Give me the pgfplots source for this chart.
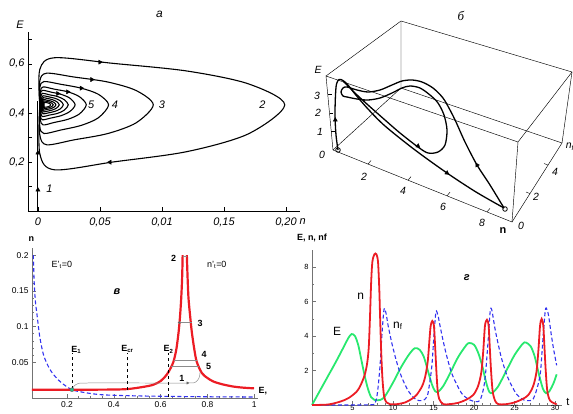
\documentclass[border=0pt]{standalone}
\usepackage{fontspec}
\setmainfont{Liberation Sans}
\newfontfamily\serifit{Liberation Serif}
\usepackage{pgfplots}
\pgfplotsset{compat=1.18}
\definecolor{nred}{RGB}{236,28,36}
\definecolor{egreen}{RGB}{40,232,110}
\definecolor{fblue}{RGB}{50,50,240}
\definecolor{dotgreen}{RGB}{40,190,140}

\begin{document}
\begin{tikzpicture}
\useasboundingbox (0,0) rectangle (573bp,414bp);
\clip (0,0) rectangle (573bp,414bp);

% ---------------- panel a: phase portrait (n,E)
\begin{axis}[
    at={(28bp,203bp)}, anchor=south west, scale only axis,
    width=272bp, height=179bp,
    xmin=-0.008, xmax=0.2113, ymin=0, ymax=0.73,
    axis x line=bottom, axis y line=left,
    axis line style={-, line width=0.8pt},
    xtick={0,0.05,0.1,0.15,0.2},
    xticklabels={0,0{,}05,0{,}01,0{,}15,0{,}20},
    ytick={0.1,0.2,0.3,0.4,0.5,0.6,0.7},
    yticklabels={,0{,}2,,0{,}4,,0{,}6,},
    tick align=inside, major tick length=4bp,
    tick style={black, line width=0.6pt},
    ticklabel style={font=\fontsize{11}{13}\selectfont\itshape},
    xticklabel style={yshift=-3bp},
    clip=false,
    lp/.style={black, line width=1.1pt, smooth},
]
\addplot[black, line width=1.1pt] coordinates {(0,0.002) (0,0.45)};
\addplot[lp] coordinates {(0.0015,0.433) (0.0015,0.577) (0.0134,0.625) (0.0608,0.602) (0.12,0.571) (0.1694,0.519) (0.199,0.433) (0.1694,0.314) (0.12,0.242) (0.0608,0.2) (0.0134,0.168) (0.0015,0.234) (0.0015,0.433)};
\addplot[lp] coordinates {(0.0015,0.433) (0.0015,0.530) (0.007,0.562) (0.029,0.5465) (0.0564,0.526) (0.0793,0.491) (0.093,0.433) (0.0793,0.36) (0.0564,0.316) (0.029,0.29) (0.007,0.27) (0.0015,0.311) (0.0015,0.433)};
\addplot[lp] coordinates {(0.0015,0.433) (0.0015,0.504) (0.0048,0.528) (0.0182,0.517) (0.0348,0.501) (0.0487,0.476) (0.057,0.433) (0.0487,0.38) (0.0348,0.349) (0.0182,0.33) (0.0048,0.316) (0.0015,0.345) (0.0015,0.433)};
\addplot[lp] coordinates {(0.002,0.433) (0.002,0.488) (0.0042,0.506) (0.0131,0.497) (0.0242,0.486) (0.0335,0.466) (0.039,0.433) (0.0335,0.396) (0.0242,0.374) (0.0131,0.361) (0.0042,0.351) (0.002,0.372) (0.002,0.433)};
\addplot[lp] coordinates {(0.002,0.433) (0.002,0.477) (0.0037,0.492) (0.0104,0.485) (0.0188,0.4755) (0.0258,0.46) (0.03,0.433) (0.0258,0.406) (0.0188,0.389) (0.0104,0.379) (0.0037,0.372) (0.002,0.387) (0.002,0.433)};
\addplot[lp] coordinates {(0.0025,0.433) (0.0025,0.468) (0.0038,0.48) (0.0091,0.474) (0.0157,0.467) (0.0212,0.454) (0.0245,0.433) (0.0212,0.411) (0.0157,0.398) (0.0091,0.391) (0.0038,0.385) (0.0025,0.397) (0.0025,0.433)};
\addplot[lp] coordinates {(0.003,0.433) (0.003,0.461) (0.0041,0.47) (0.0083,0.466) (0.0135,0.46) (0.0179,0.45) (0.0205,0.433) (0.0179,0.416) (0.0135,0.406) (0.0083,0.4) (0.0041,0.396) (0.003,0.405) (0.003,0.433)};
\addplot[lp] coordinates {(0.0035,0.433) (0.0035,0.455) (0.0043,0.462) (0.0076,0.459) (0.0117,0.454) (0.0151,0.446) (0.0172,0.433) (0.0151,0.42) (0.0117,0.412) (0.0076,0.407) (0.0043,0.404) (0.0035,0.411) (0.0035,0.433)};
\addplot[lp] coordinates {(0.004,0.433) (0.004,0.4495) (0.0046,0.455) (0.0072,0.452) (0.0103,0.449) (0.0129,0.443) (0.0145,0.433) (0.0129,0.423) (0.0103,0.417) (0.0072,0.414) (0.0046,0.411) (0.004,0.4165) (0.004,0.433)};
\addplot[lp] coordinates {(0.0045,0.433) (0.0045,0.445) (0.005,0.449) (0.0069,0.447) (0.0092,0.4445) (0.0112,0.44) (0.0124,0.433) (0.0112,0.426) (0.0092,0.4215) (0.0069,0.419) (0.005,0.417) (0.0045,0.421) (0.0045,0.433)};
\addplot[lp] coordinates {(0.005,0.433) (0.005,0.4405) (0.0053,0.443) (0.0071,0.442) (0.0086,0.44) (0.0097,0.4375) (0.0102,0.433) (0.0097,0.4285) (0.0086,0.426) (0.0071,0.424) (0.0053,0.423) (0.005,0.4255) (0.005,0.433)};
% direction marks
\addplot[only marks, mark=triangle*, mark size=2.4pt, black] coordinates {(0,0.086) (0,0.237)};
\addplot[only marks, mark=triangle*, mark size=2.4pt, black, mark options={rotate=-90}] coordinates {(0.05,0.607) (0.0435,0.536) (0.035,0.501) (0.024,0.486) (0.016,0.479)};
\addplot[only marks, mark=triangle*, mark size=2.4pt, black, mark options={rotate=90}] coordinates {(0.058,0.199)};
\begin{scope}[font=\fontsize{11}{13}\selectfont\itshape]
\node[anchor=west] at (axis cs:0.004,0.09) {1};
\node at (axis cs:0.181,0.433) {2};
\node at (axis cs:0.100,0.433) {3};
\node at (axis cs:0.062,0.433) {4};
\node at (axis cs:0.043,0.433) {5};
\node at (axis cs:-0.0145,0.76) {E};
\node at (axis cs:0.2135,-0.045) {n};
\node[font=\fontsize{12}{14}\selectfont\itshape] at (axis cs:0.098,0.80) {а};
\end{scope}
\end{axis}

% ---------------- panel b: 3D trajectory (E,n,n_f), projected, pixel units
\begin{axis}[
    at={(300bp,174bp)}, anchor=south west, scale only axis,
    width=273bp, height=240bp,
    xmin=300, xmax=573, ymin=0, ymax=240, y dir=reverse,
    hide axis, clip=false,
    box/.style={black, line width=0.45pt},
    tr/.style={black, line width=1.3pt, smooth},
]
\addplot[box] coordinates {(333,150) (326,76) (518,142) (512,222) (333,150)};
\addplot[box] coordinates {(326,76) (401,21) (572,72) (518,142)};
\addplot[box] coordinates {(572,72) (562,143) (512,222)};
\addplot[box] coordinates {(401,21) (401,88) (333,150)};
\addplot[box] coordinates {(401,88) (562,143)};
% ticks
\addplot[box] coordinates {(331.25,131.5) (335,131.5)};
\addplot[box] coordinates {(329.5,113) (333.3,113)};
\addplot[box] coordinates {(327.75,94.5) (331.5,94.5)};
\addplot[box] coordinates {(368,164.1) (371,160.5)};
\addplot[box] coordinates {(408,180.2) (411,176.6)};
\addplot[box] coordinates {(447,195.8) (450,192.2)};
\addplot[box] coordinates {(487,211.9) (490,208.3)};
\addplot[box] coordinates {(530,193.6) (526,192)};
\addplot[box] coordinates {(548,165.1) (544,163.5)};
% trajectory
\addplot[tr] coordinates {(338,150) (336,135) (335,115) (335.5,95) (336.5,84) (339,79.5) (343,80.5) (348,85) (355,94) (368,109) (385,126) (415,150) (447,173) (476,192) (504,208)};
\addplot[tr] coordinates {(504,208) (490,185) (477,165) (465,142) (456,122) (450,110) (443,98) (433,88) (422,82) (412,80) (402,81) (392,85) (380,90) (368,92) (357,90) (347,87) (343,88) (341,92) (343,96) (347,97) (357,99) (368,100) (380,98) (392,93) (402,88) (410,86) (420,88) (430,95) (438,103) (444,115) (447,130) (445,145) (438,152) (428,153) (418,147) (400,133) (385,120) (368,105) (356,94) (348,86) (343,81)};
\addplot[only marks, mark=o, mark size=2.3pt, black, line width=0.8pt] coordinates {(338,150) (505,209)};
\addplot[only marks, mark=triangle*, mark size=2.4pt, black] coordinates {(335.3,120)};
\addplot[only marks, mark=triangle*, mark size=2.4pt, black, mark options={rotate=-127}] coordinates {(418,146)};
\addplot[only marks, mark=triangle*, mark size=2.4pt, black, mark options={rotate=-126}] coordinates {(447,173)};
\addplot[only marks, mark=triangle*, mark size=2.4pt, black, mark options={rotate=30}] coordinates {(477,165)};
\begin{scope}[font=\fontsize{10.5}{12}\selectfont\itshape]
\node at (axis cs:461,16) {\serifit\fontsize{13}{14}\selectfont б};
\node at (axis cs:318,70) {E};
\node at (axis cs:317,96) {3};
\node at (axis cs:318,113) {2};
\node at (axis cs:320,132) {1};
\node at (axis cs:322,155) {0};
\node at (axis cs:364,177) {2};
\node at (axis cs:403,191) {4};
\node at (axis cs:443,207) {6};
\node at (axis cs:482,223) {8};
\node at (axis cs:521,226) {0};
\node at (axis cs:536,197) {2};
\node at (axis cs:555,172) {4};
\node at (axis cs:570,147) {n\textsubscript{f}};
\node[font=\fontsize{11}{12}\selectfont\bfseries] at (axis cs:503,231) {n};
\end{scope}
\end{axis}

% ---------------- panel c: nullclines (E,n)
\begin{axis}[
    at={(32bp,16bp)}, anchor=south west, scale only axis,
    width=226bp, height=150bp,
    xmin=0.0504, xmax=1.016, ymin=0, ymax=0.21,
    axis lines=left, axis line style={-, black!55, line width=0.6pt},
    xtick={0.2,0.4,0.6,0.8,1}, xticklabels={0.2,0.4,0.6,0.8,1},
    ytick={0.05,0.1,0.15,0.2}, yticklabels={0.05,0.1,0.15,0.2},
    minor x tick num=3, minor y tick num=4,
    tick align=inside, major tick length=4bp, minor tick length=2bp,
    tick style={black!55, line width=0.5pt},
    ticklabel style={font=\fontsize{8.5}{10}\selectfont},
    clip=false,
]
\addplot[fblue, line width=1.1pt, dash pattern=on 4pt off 2.5pt, smooth] coordinates {(0.056,0.2) (0.060,0.16) (0.065,0.135) (0.072,0.116) (0.084,0.085) (0.100,0.06) (0.122,0.043) (0.142,0.033) (0.174,0.022) (0.221,0.0116) (0.278,0.0075) (0.342,0.0047) (0.430,0.0035) (0.525,0.0028) (0.626,0.0023) (0.809,0.0017) (0.999,0.0014)};
\addplot[nred, line width=2.2pt, smooth] coordinates {(0.050,0.0116) (0.240,0.0116) (0.382,0.0118) (0.458,0.0125) (0.525,0.0155) (0.569,0.0186) (0.601,0.024) (0.626,0.0326) (0.643,0.042) (0.655,0.051) (0.667,0.068) (0.677,0.093) (0.683,0.115) (0.688,0.14) (0.692,0.17) (0.694,0.2)};
\addplot[nred, line width=2.2pt, smooth] coordinates {(0.712,0.2) (0.715,0.17) (0.719,0.14) (0.726,0.115) (0.733,0.093) (0.743,0.07) (0.754,0.051) (0.776,0.035) (0.800,0.028) (0.826,0.023) (0.866,0.019) (0.911,0.016) (0.952,0.0145) (0.999,0.0135)};
% trajectories
\addplot[black!45, line width=0.5pt, smooth] coordinates {(0.221,0.0116) (0.231,0.017) (0.250,0.0205) (0.288,0.021) (0.525,0.021) (0.715,0.021) (0.748,0.022) (0.764,0.028) (0.769,0.037)};
\addplot[black!45, line width=0.5pt] coordinates {(0.656,0.0535) (0.754,0.0535)};
\addplot[black!45, line width=0.5pt] coordinates {(0.646,0.044) (0.762,0.044)};
\addplot[black!45, line width=0.5pt] coordinates {(0.677,0.1056) (0.733,0.1056)};
\addplot[black!45, line width=0.5pt] coordinates {(0.694,0.199) (0.712,0.199)};
\addplot[only marks, mark=triangle*, mark size=1.3pt, black!60, mark options={rotate=-90}] coordinates {(0.715,0.021)};
\addplot[only marks, mark=triangle*, mark size=1.3pt, black!60, mark options={rotate=90}] coordinates {(0.680,0.1056)};
% critical levels
\addplot[black, line width=0.5pt, dashed] coordinates {(0.221,0.012) (0.221,0.063)};
\addplot[black, line width=0.5pt, dashed] coordinates {(0.458,0.011) (0.458,0.063)};
\addplot[black, line width=0.5pt, dashed] coordinates {(0.634,0.002) (0.634,0.063)};
\addplot[only marks, mark=*, mark size=2pt, fill=dotgreen, draw=black!60] coordinates {(0.221,0.0116)};
\begin{scope}[font=\fontsize{9}{10}\selectfont\bfseries]
\node at (axis cs:0.240,0.068) {E\textsubscript{1}};
\node at (axis cs:0.458,0.068) {E\textsubscript{cr}};
\node at (axis cs:0.634,0.068) {E\textsubscript{2}};
\node at (axis cs:0.655,0.196) {2};
\node at (axis cs:0.769,0.105) {3};
\node at (axis cs:0.786,0.061) {4};
\node at (axis cs:0.805,0.044) {5};
\node at (axis cs:0.691,0.028) {1};
\node at (axis cs:0.048,0.222) {n};
\node at (axis cs:1.037,0.009) {E,};
\node[font=\fontsize{11}{12}\selectfont\bfseries\itshape] at (axis cs:0.413,0.149) {в};
\end{scope}
\node[font=\fontsize{9}{10}\selectfont] at (axis cs:0.178,0.186) {E'\textsubscript{t}=0};
\node[font=\fontsize{9}{10}\selectfont] at (axis cs:0.840,0.186) {n'\textsubscript{t}=0};
\end{axis}

% ---------------- panel d: time series
\begin{axis}[
    at={(312bp,9bp)}, anchor=south west, scale only axis,
    width=250bp, height=155bp,
    xmin=0, xmax=30.86, ymin=0, ymax=9,
    axis lines=left, axis line style={-, black!55, line width=0.6pt},
    xtick={5,10,15,20,25,30}, ytick={2,4,6,8},
    minor x tick num=4, minor y tick num=1,
    tick align=inside, major tick length=4bp, minor tick length=2bp,
    tick style={black!55, line width=0.5pt},
    ticklabel style={font=\fontsize{7.5}{8}\selectfont},
    xticklabel style={inner sep=0.4pt},
    /pgf/number format/assume math mode=true,
    clip=false,
]
\addplot[egreen, line width=1.8pt, smooth] coordinates {(0,0) (1,0.85) (2,1.7) (3,2.55) (4,3.45) (4.5,3.9) (4.9,4.12) (5.3,4.0) (5.7,3.5) (6.1,2.6) (6.5,1.7) (6.9,0.95) (7.3,0.45) (7.7,0.3) (8.4,0.29) (9,0.5) (10,1.3) (11,2.2) (12,2.95) (12.7,3.3) (13.3,3.2) (13.8,2.8) (14.3,2.0) (14.8,1.2) (15.2,0.8) (15.6,0.78) (16.2,1.1) (17,1.8) (18,2.75) (19,3.45) (19.4,3.6) (20,3.5) (20.5,3.05) (21,2.3) (21.5,1.3) (21.9,0.75) (22.3,0.72) (23,1.1) (24,2.0) (25,2.9) (26,3.55) (26.4,3.63) (27,3.4) (27.5,2.8) (28,1.8) (28.5,0.95) (28.9,0.68) (29.3,0.8) (29.8,1.25) (30.2,1.78)};
\addplot[fblue, line width=1.1pt, dash pattern=on 4pt off 2.5pt, smooth] coordinates {(0,0) (7,0.01) (7.8,0.15) (8.1,0.8) (8.4,2.3) (8.65,4.2) (8.9,5.57) (9.15,5.3) (9.4,4.6) (9.9,3.5) (10.45,2.5) (11,1.7) (11.7,0.97) (12.3,0.55) (12.9,0.3) (13.6,0.25) (14.2,0.48) (14.5,1.2) (14.8,2.3) (15.05,4.0) (15.3,5.4) (15.55,5.2) (15.8,4.6) (16.2,3.7) (16.6,2.9) (17.2,1.9) (17.9,1.16) (18.6,0.6) (19.5,0.29) (20.2,0.2) (20.7,0.25) (21.1,0.8) (21.4,1.7) (21.75,3.8) (22.0,5.45) (22.2,5.5) (22.6,4.4) (23,3.5) (23.4,2.7) (24,1.8) (24.6,1.16) (25.3,0.6) (26.1,0.3) (26.8,0.25) (27.3,0.35) (27.8,1.0) (28.2,1.9) (28.5,3.8) (28.8,5.5) (29.0,5.55) (29.2,5.2) (29.5,4.2) (29.8,3.3) (30.2,2.3)};
\addplot[nred, line width=1.8pt, smooth] coordinates {(0,0) (2,0.03) (3.5,0.2) (4.5,0.4) (5.5,0.77) (6,1.15) (6.5,1.74) (6.8,2.4) (7.0,3.3) (7.15,5.0) (7.3,7.1) (7.45,8.3) (7.7,8.75) (7.95,8.75) (8.15,8.3) (8.3,6.8) (8.4,5.2) (8.55,3.0) (8.7,1.5) (8.9,0.5) (9.2,0.15) (9.6,0.05) (10.5,0.05) (11.5,0.15) (12.3,0.35) (12.9,0.58) (13.6,1.1) (14.0,1.7) (14.3,2.6) (14.5,3.8) (14.65,4.6) (14.85,4.88) (15.05,4.6) (15.2,3.4) (15.35,2.0) (15.5,0.9) (15.7,0.35) (16.2,0.05) (17,0.05) (18,0.12) (19,0.3) (19.9,0.58) (20.5,1.1) (20.9,1.9) (21.15,3.2) (21.35,4.6) (21.6,4.95) (21.8,4.6) (21.95,3.3) (22.1,2.0) (22.3,0.8) (22.6,0.25) (23,0.05) (24,0.05) (25,0.15) (26,0.35) (26.7,0.58) (27.3,1.1) (27.7,1.9) (27.95,3.2) (28.15,4.6) (28.35,5.0) (28.55,4.6) (28.7,3.3) (28.85,2.0) (29.05,0.8) (29.4,0.25) (30.2,0.04)};
\node[font=\fontsize{9}{10}\selectfont\bfseries] at (axis cs:0,9.68) {E, n, nf};
\node[font=\fontsize{12}{13}\selectfont] at (axis cs:6,6.3) {n};
\node[font=\fontsize{12}{13}\selectfont] at (axis cs:3.1,4.3) {E};
\node[font=\fontsize{12}{13}\selectfont] at (axis cs:10.6,4.6) {n\textsubscript{f}};
\node[font=\fontsize{11}{12}\selectfont] at (axis cs:31.6,0.17) {t};
\node[font=\fontsize{11}{12}\selectfont\bfseries\itshape] at (axis cs:19.1,7.4) {г};
\end{axis}
\end{tikzpicture}
\end{document}
